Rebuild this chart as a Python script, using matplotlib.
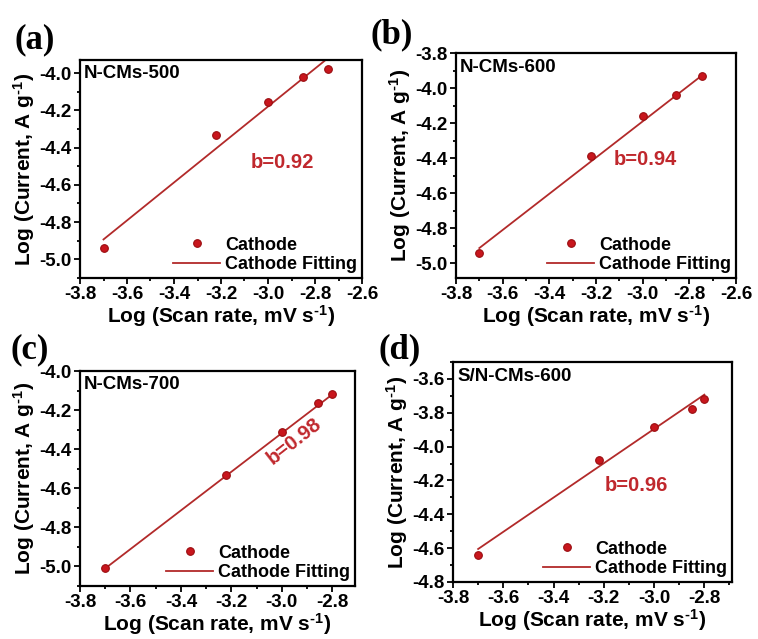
import numpy as np
import matplotlib
matplotlib.use("Agg")
import matplotlib.pyplot as plt
from matplotlib.ticker import MultipleLocator

plt.rcParams['font.family'] = 'Liberation Sans'
plt.rcParams['font.weight'] = 'bold'
plt.rcParams['axes.labelweight'] = 'bold'
plt.rcParams['axes.unicode_minus'] = False
plt.rcParams['mathtext.fontset'] = 'custom'
plt.rcParams['mathtext.rm'] = 'Liberation Sans:bold'
plt.rcParams['mathtext.bf'] = 'Liberation Sans:bold'
plt.rcParams['mathtext.default'] = 'bf'

# log(scan rate) and log(current)
x_a = [-3.70, -3.22, -3.00, -2.852, -2.745]
y_a = [-4.938, -4.333, -4.158, -4.021, -3.977]
fit_x_a = [-3.70, -2.745]
fit_y_a = [-4.893, -3.920]

x_b = [-3.70, -3.22, -3.00, -2.855, -2.745]
y_b = [-4.942, -4.388, -4.159, -4.039, -3.933]
fit_x_b = [-3.70, -2.745]
fit_y_b = [-4.914, -3.927]

x_c = [-3.70, -3.22, -3.00, -2.855, -2.80]
y_c = [-5.010, -4.530, -4.310, -4.165, -4.120]
fit_x_c = [-3.70, -2.80]
fit_y_c = [-5.010, -4.120]

x_d = [-3.70, -3.22, -3.00, -2.85, -2.80]
y_d = [-4.640, -4.082, -3.883, -3.776, -3.717]
fit_x_d = [-3.70, -2.80]
fit_y_d = [-4.605, -3.693]

names = ['N-CMs-500', 'N-CMs-600', 'N-CMs-700', 'S/N-CMs-600']
b_values = ['b=0.92', 'b=0.94', 'b=0.98', 'b=0.96']
letters = ['(a)', '(b)', '(c)', '(d)']

W, H = 758, 639
fig = plt.figure(figsize=(W / 100, H / 100), dpi=100)

def px_rect(left, top, right, bottom):
    return [left / W, 1 - bottom / H, (right - left) / W, (bottom - top) / H]

panels = [
    dict(rect=px_rect(80, 60, 362, 278), x=x_a, y=y_a, fx=fit_x_a, fy=fit_y_a,
         xlim=(-3.8, -2.6), ylim=(-5.1, -3.93), yt=(-5.0, -4.0),
         btxt=(-2.94, -4.48, 0), letter=(14, 48)),
    dict(rect=px_rect(456, 53, 736, 278), x=x_b, y=y_b, fx=fit_x_b, fy=fit_y_b,
         xlim=(-3.8, -2.6), ylim=(-5.085, -3.8), yt=(-5.0, -3.8),
         btxt=(-2.99, -4.41, 0), letter=(370, 43)),
    dict(rect=px_rect(80, 371, 355, 586), x=x_c, y=y_c, fx=fit_x_c, fy=fit_y_c,
         xlim=(-3.8, -2.71), ylim=(-5.1, -4.0), yt=(-5.0, -4.0),
         btxt=(-2.95, -4.36, 38), letter=(10, 358)),
    dict(rect=px_rect(453, 362, 732, 582), x=x_d, y=y_d, fx=fit_x_d, fy=fit_y_d,
         xlim=(-3.8, -2.69), ylim=(-4.8, -3.5), yt=(-4.8, -3.6),
         btxt=(-3.07, -4.23, 0), letter=(378, 358)),
]

red = '#c8161d'
line_red = '#b22a2a'

axes = []
for i, p in enumerate(panels):
    ax = fig.add_axes(p['rect'])
    axes.append(ax)
    ax.plot(p['x'], p['y'], 'o', ms=5.5, mfc=red, mec='#9a0d10', mew=0.8,
            label='Cathode', zorder=3)
    ax.plot(p['fx'], p['fy'], '-', color=line_red, lw=1.3, label='Cathode Fitting')
    ax.set_xlim(*p['xlim'])
    ax.set_ylim(*p['ylim'])
    xt_end = -2.6 if p['xlim'][1] > -2.61 else -2.8
    ax.set_xticks(np.round(np.arange(-3.8, xt_end + 0.01, 0.2), 1))
    ax.set_yticks(np.round(np.arange(p['yt'][0], p['yt'][1] + 0.01, 0.2), 1))
    ax.xaxis.set_minor_locator(MultipleLocator(0.1))
    ax.yaxis.set_minor_locator(MultipleLocator(0.1))
    ax.xaxis.set_major_formatter(plt.FuncFormatter(lambda v, pos: f'{v:.1f}'))
    ax.yaxis.set_major_formatter(plt.FuncFormatter(lambda v, pos: f'{v:.1f}'))
    ax.tick_params(which='both', direction='out', width=1.3, labelsize=13.5, pad=1.5)
    ax.tick_params(which='major', length=4.5)
    ax.tick_params(which='minor', length=2.5)
    for s in ax.spines.values():
        s.set_linewidth(1.6)
    ax.set_xlabel(r'Log (Scan rate, mV s$^{\text{-1}}$)', fontsize=15,
                  fontweight='bold', labelpad=0)
    ax.set_ylabel(r'Log (Current, A g$^{\text{-1}}$)', fontsize=15,
                  fontweight='bold', labelpad=2)
    ax.text(0.015, 0.975, names[i], transform=ax.transAxes, ha='left', va='top',
            fontsize=13.5, fontweight='bold')
    bx, by, rot = p['btxt']
    ax.text(bx, by, b_values[i], color='#c0282d', fontsize=14.5, fontweight='bold',
            ha='center', va='center', rotation=rot)
    ax.legend(loc='lower right', frameon=False, handlelength=2.6,
              handletextpad=0.3, labelspacing=0.15, borderaxespad=0.15,
              borderpad=0.1, prop={'weight': 'bold', 'size': 13})
    lx, ly = p['letter']
    fig.text(lx / W, 1 - ly / H, letters[i], fontsize=25, fontweight='bold',
             family='Liberation Serif', ha='left', va='baseline')

# tick labels are only built at draw time, so make them bold afterwards
fig.canvas.draw()
for ax in axes:
    for lab in ax.get_xticklabels() + ax.get_yticklabels():
        lab.set_fontweight('bold')

fig.savefig('out.png', dpi=100)
